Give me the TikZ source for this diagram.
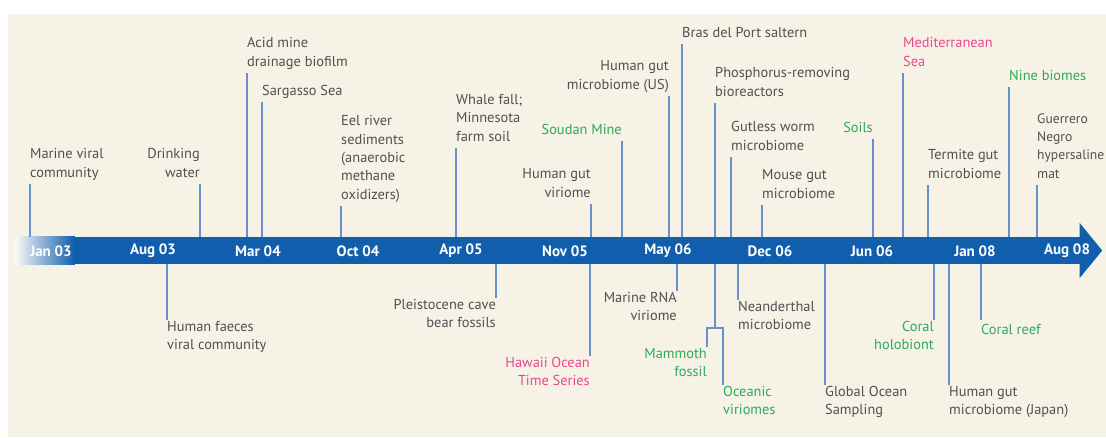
\documentclass[tikz,border=0pt]{standalone}
\usepackage{fontspec}
\setmainfont{PT Sans}
\usepackage{xcolor}
\usetikzlibrary{calc}

\definecolor{cream}{RGB}{246,242,230}
\definecolor{barblue}{RGB}{16,94,172}
\definecolor{tickblue}{RGB}{105,145,205}
\definecolor{txtgray}{RGB}{80,80,80}
\definecolor{txtgreen}{RGB}{45,170,90}
\definecolor{txtpink}{RGB}{232,72,140}

\begin{document}
\begin{tikzpicture}[x=1pt,y=-1pt]
        \tikzstyle{lbl}=[inner xsep=0pt, inner ysep=1pt, align=left, text=txtgray,
            font=\fontsize{14.4}{18.4}\selectfont, execute at begin node=\strut, execute at end node=\strut]
        \tikzstyle{rlbl}=[lbl, align=right]
        \tikzstyle{date}=[text=white, inner sep=0pt, font=\fontsize{15}{17}\selectfont\bfseries]
        \tikzstyle{tick}=[draw=tickblue, line width=1.6pt]

        \useasboundingbox (0,0) rectangle (1106,437);
        \fill[cream] (8,14) rectangle (1106,437);

        % time bar
        \node[fill=barblue, minimum width=1065pt, minimum height=27pt, inner sep=0pt] (band) at (547.5,250.5) {};
        \shade[left color=cream!40!white, right color=barblue] (band.north west) rectangle ($(band.south west)+(60,0)$);
        \fill[barblue] ($(band.east)+(-0.5,-27.5)$) -- ($(band.east)+(22,0)$) -- ($(band.east)+(-0.5,27.5)$) -- cycle;

        \node[date] (jan03) at (51,251) {Jan 03};
        \node[date] (aug03) at (153,251) {Aug 03};
        \node[date] (mar04) at (258,251) {Mar 04};
        \node[date] (oct04) at (358,251) {Oct 04};
        \node[date] (apr05) at (461,251) {Apr 05};
        \node[date] (nov05) at (565,251) {Nov 05};
        \node[date] (may06) at (668,251) {May 06};
        \node[date] (dec06) at (770,251) {Dec 06};
        \node[date] (jun06) at (872,251) {Jun 06};
        \node[date] (jan08) at (975,251) {Jan 08};
        \node[date] (aug08) at (1067,251) {Aug 08};

        % above the bar
        \node[lbl, anchor=south west] (marine) at (30,184) {Marine viral\\community};
        \node[rlbl, anchor=south east] (drink) at (200,184) {Drinking\\water};
        \node[lbl, anchor=south west] (acid) at (247,73) {Acid mine\\drainage biofilm};
        \node[lbl, anchor=south west] (sargasso) at (262,102) {Sargasso Sea};
        \node[lbl, anchor=south west] (eel) at (341,206) {Eel river\\sediments\\(anaerobic\\methane\\oxidizers)};
        \node[lbl, anchor=south west] (whale) at (456,148) {Whale fall;\\Minnesota\\farm soil};
        \node[rlbl, anchor=south east] (viriome) at (591,204) {Human gut\\viriome};
        \node[rlbl, anchor=south east, text=txtgreen] (soudan) at (622,141) {Soudan Mine};
        \node[rlbl, anchor=south east] (gutus) at (669,96) {Human gut\\microbiome (US)};
        \node[lbl, anchor=south west] (bras) at (682,44) {Bras del Port saltern};
        \node[lbl, anchor=south west] (phos) at (715,103) {Phosphorus-removing\\bioreactors};
        \node[lbl, anchor=south west] (worm) at (731,157) {Gutless worm\\microbiome};
        \node[lbl, anchor=south west] (mouse) at (762,205) {Mouse gut\\microbiome};
        \node[rlbl, anchor=south east, text=txtgreen] (soils) at (873,139) {Soils};
        \node[lbl, anchor=south west, text=txtpink] (medit) at (903,73) {Mediterranean\\Sea};
        \node[lbl, anchor=south west] (termite) at (928,185) {Termite gut\\microbiome};
        \node[lbl, anchor=south west, text=txtgreen] (nine) at (1009,87) {Nine biomes};
        \node[lbl, anchor=south west, font=\fontsize{13.6}{18.4}\selectfont] (guerrero) at (1037,185) {Guerrero\\Negro\\hypersaline\\mat};

        \draw[tick] (marine.south west) -- (marine.south west |- band.north);
        \draw[tick] (drink.south east) -- (drink.south east |- band.north);
        \draw[tick] (acid.south west) -- (acid.south west |- band.north);
        \draw[tick] (sargasso.south west) -- (sargasso.south west |- band.north);
        \draw[tick] (eel.south west) -- (eel.south west |- band.north);
        \draw[tick] (whale.south west) -- (whale.south west |- band.north);
        \draw[tick] (viriome.south east) -- (viriome.south east |- band.north);
        \draw[tick] (soudan.south east) -- (soudan.south east |- band.north);
        \draw[tick] (gutus.south east) -- (gutus.south east |- band.north);
        \draw[tick] (bras.south west) -- (bras.south west |- band.north);
        \draw[tick] (phos.south west) -- (phos.south west |- band.north);
        \draw[tick] (worm.south west) -- (worm.south west |- band.north);
        \draw[tick] (mouse.south west) -- (mouse.south west |- band.north);
        \draw[tick] (soils.south east) -- (soils.south east |- band.north);
        \draw[tick] (medit.south west) -- (medit.south west |- band.north);
        \draw[tick] (termite.south west) -- (termite.south west |- band.north);
        \draw[tick] (nine.south west) -- (nine.south west |- band.north);
        \draw[tick] (guerrero.south west) -- (guerrero.south west |- band.north);

        % below the bar
        \node[lbl, anchor=north west] (faeces) at (167,320) {Human faeces\\viral community};
        \node[rlbl, anchor=north east] (cave) at (496,298) {Pleistocene cave\\bear fossils};
        \node[rlbl, anchor=north east, text=txtpink] (hawaii) at (590,356) {Hawaii Ocean\\Time Series};
        \node[rlbl, anchor=north east] (rna) at (677,291) {Marine RNA\\viriome};
        \node[rlbl, anchor=north east, text=txtgreen] (mammoth) at (707,347) {Mammoth\\fossil};
        \node[lbl, anchor=north west, text=txtgreen] (oceanic) at (723,385) {Oceanic\\viriomes};
        \node[lbl, anchor=north west] (neander) at (738,300) {Neanderthal\\microbiome};
        \node[lbl, anchor=north west] (gos) at (825,385) {Global Ocean\\Sampling};
        \node[rlbl, anchor=north east, text=txtgreen] (holo) at (934,320) {Coral\\holobiont};
        \node[lbl, anchor=north west] (japan) at (949,385) {Human gut\\microbiome (Japan)};
        \node[lbl, anchor=north west, text=txtgreen] (reef) at (981,320) {Coral reef};

        \draw[tick] (faeces.north west) -- (faeces.north west |- band.south);
        \draw[tick] (cave.north east) -- (cave.north east |- band.south);
        \draw[tick] (hawaii.north east) -- (hawaii.north east |- band.south);
        \draw[tick] (rna.north east) -- (rna.north east |- band.south);
        \coordinate (split) at (715,328);
        \draw[tick] (split |- band.south) -- (split);
        \draw[tick] (mammoth.north east) -- (mammoth.north east |- split) -- (oceanic.north west |- split) -- (oceanic.north west);
        \draw[tick] (neander.north west) -- (neander.north west |- band.south);
        \draw[tick] (gos.north west) -- (gos.north west |- band.south);
        \draw[tick] (holo.north east) -- (holo.north east |- band.south);
        \draw[tick] (japan.north west) -- (japan.north west |- band.south);
        \draw[tick] (reef.north west) -- (reef.north west |- band.south);
\end{tikzpicture}
\end{document}
